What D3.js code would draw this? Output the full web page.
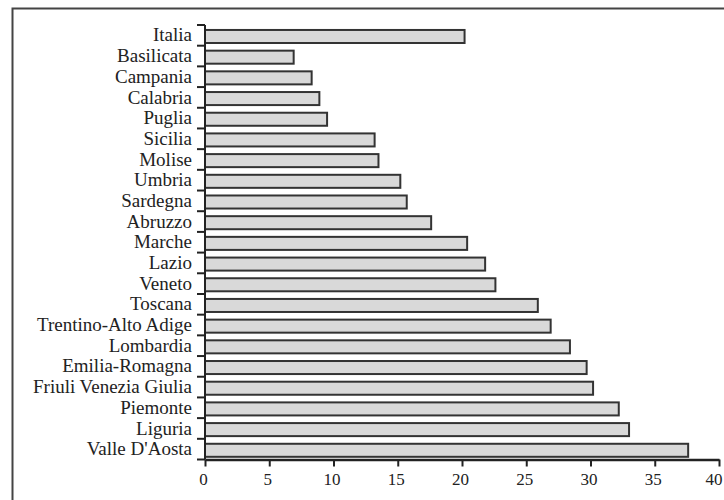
<!DOCTYPE html>
<html>
<head>
<meta charset="utf-8">
<script src="https://cdn.jsdelivr.net/npm/d3@7"></script>
<style>
  html, body { margin: 0; padding: 0; background: #fff; }
  svg { display: block; }
</style>
</head>
<body>
<svg id="chart" width="724" height="500"></svg>
<script>
const categories = ["Italia", "Basilicata", "Campania", "Calabria", "Puglia", "Sicilia", "Molise",
  "Umbria", "Sardegna", "Abruzzo", "Marche", "Lazio", "Veneto", "Toscana", "Trentino-Alto Adige",
  "Lombardia", "Emilia-Romagna", "Friuli Venezia Giulia", "Piemonte", "Liguria", "Valle D'Aosta"];
const values = [20.2, 6.9, 8.3, 8.9, 9.5, 13.2, 13.5, 15.2, 15.7, 17.6, 20.4, 21.8, 22.6, 25.9,
  26.9, 28.4, 29.7, 30.2, 32.2, 33.0, 37.6];
const xTicks = [0, 5, 10, 15, 20, 25, 30, 35, 40];

const data = categories.map((c, i) => ({ name: c, value: values[i] }));

const svg = d3.select("#chart");
const plotLeft = 205, plotRight = 719, plotTop = 25, plotBottom = 459.5;
const font = "'Liberation Serif', 'DejaVu Serif', serif";

// outer frame (extends beyond the visible area on right and bottom)
svg.append("rect")
  .attr("x", 12.5).attr("y", 8.5).attr("width", 730).attr("height", 520)
  .attr("fill", "none").attr("stroke", "#444").attr("stroke-width", 2);

const x = d3.scaleLinear().domain([0, 40]).range([plotLeft, plotRight]);
const y = d3.scaleBand().domain(categories).range([plotTop, plotBottom]).padding(0);

// bars
svg.append("g").selectAll("rect").data(data).join("rect")
  .attr("x", x(0))
  .attr("y", d => y(d.name) + y.bandwidth() * 0.24)
  .attr("width", d => x(d.value) - x(0))
  .attr("height", y.bandwidth() * 0.63)
  .attr("fill", "#d9d9d9")
  .attr("stroke", "#333")
  .attr("stroke-width", 2);

// x axis
const xAxis = svg.append("g")
  .attr("transform", `translate(0,${plotBottom})`)
  .call(d3.axisBottom(x).tickValues(xTicks).tickSize(7).tickPadding(6).tickSizeOuter(0));
xAxis.select(".domain").attr("stroke", "#222").attr("stroke-width", 2.5);
xAxis.selectAll(".tick line").attr("stroke", "#222").attr("stroke-width", 2);
xAxis.selectAll(".tick text").attr("font-family", font).attr("font-size", 17).attr("fill", "#222")
  .attr("dx", -2);
xAxis.selectAll(".tick text").filter(d => d === 40)
  .attr("text-anchor", "end").attr("dx", 3);

// y axis: labels at band centres, ticks at band boundaries
const yAxis = svg.append("g")
  .attr("transform", `translate(${plotLeft},0)`)
  .call(d3.axisLeft(y).tickSize(0).tickPadding(13));
yAxis.select(".domain").remove();
yAxis.selectAll(".tick text").attr("font-family", font).attr("font-size", 19).attr("fill", "#222");

const boundaries = categories.map(c => y(c)).concat([y(categories[categories.length - 1]) + y.step()]);
svg.append("g").selectAll("line").data(boundaries).join("line")
  .attr("x1", plotLeft - 8).attr("x2", plotLeft)
  .attr("y1", d => d).attr("y2", d => d)
  .attr("stroke", "#222").attr("stroke-width", 2);
svg.append("line")
  .attr("x1", plotLeft).attr("x2", plotLeft)
  .attr("y1", plotTop).attr("y2", plotBottom)
  .attr("stroke", "#222").attr("stroke-width", 2);
</script>
</body>
</html>
